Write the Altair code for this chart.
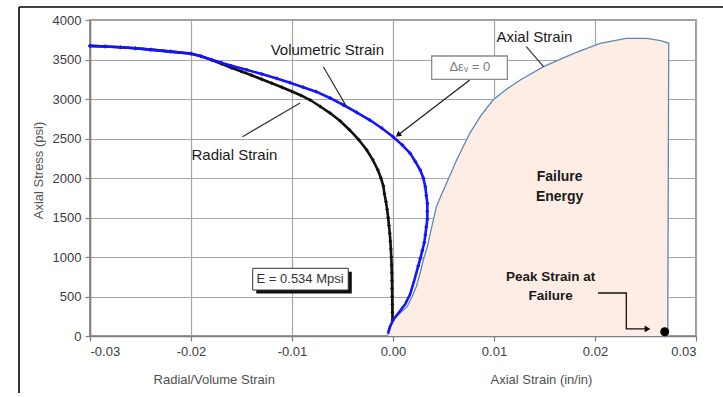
import altair as alt
import pandas as pd

FONT = "Liberation Sans, Arial, sans-serif"

# ---- Radial strain (black) ----
rad_x = [-0.0300, -0.0285, -0.0270, -0.0255, -0.0240, -0.0220, -0.0200, -0.0190, -0.0180,
         -0.0170, -0.0160, -0.0150, -0.0140, -0.0130, -0.0120, -0.0110, -0.0100, -0.0091,
         -0.0082, -0.0072, -0.0062, -0.0052, -0.0043, -0.0034, -0.0026, -0.0020, -0.0015,
         -0.0012, -0.00096, -0.00085, -0.00070, -0.00058, -0.00048, -0.00040, -0.00032,
         -0.00026, -0.00021, -0.00017, -0.00014, -0.00012, -0.00010, -0.00009, -0.00008,
         -0.00007, -0.00006, -0.00005]
rad_y = [3672, 3665, 3655, 3642, 3625, 3600, 3572, 3540, 3495,
         3445, 3395, 3348, 3300, 3250, 3200, 3148, 3095, 3045,
         2987, 2905, 2819, 2718, 2608, 2485, 2354, 2230, 2101,
         2000, 1900, 1800, 1700, 1600, 1500, 1400, 1300,
         1200, 1100, 1000, 900, 800, 700, 600, 500,
         400, 300, 200]

# ---- Volumetric strain (blue) ----
vol_x = [-0.0300, -0.0285, -0.0270, -0.0255, -0.0240, -0.0220, -0.0200, -0.0190, -0.0180,
         -0.0170, -0.0160, -0.0145, -0.0130, -0.0115, -0.0102, -0.0089, -0.0076, -0.0062,
         -0.0049, -0.0036, -0.0023, -0.0011, 0.0000, 0.0009, 0.0017, 0.0022, 0.0027,
         0.0030, 0.0032, 0.0033, 0.0034, 0.0034, 0.0034, 0.0033, 0.0032, 0.0031,
         0.0029, 0.0027, 0.0025, 0.0021, 0.0017, 0.0012, 0.0006, 0.0001, -0.0003, -0.0005]
vol_y = [3672, 3665, 3655, 3642, 3625, 3600, 3575, 3540, 3500,
         3460, 3420, 3370, 3315, 3260, 3207, 3150, 3093, 3010,
         2924, 2830, 2734, 2630, 2523, 2420, 2312, 2210, 2101,
         2000, 1890, 1780, 1680, 1580, 1480, 1380, 1280, 1182,
         1080, 980, 887, 700, 530, 400, 300, 220, 120, 30]

# ---- Axial strain (thin line + failure-energy fill) ----
ax_x = [-0.0005, 0.0000, 0.0007, 0.0014, 0.0019, 0.0023, 0.0027, 0.0030, 0.0034, 0.0037,
        0.0040, 0.0043, 0.0048, 0.0053, 0.0063, 0.0076, 0.0087, 0.0099, 0.0112, 0.0126,
        0.0149, 0.0179, 0.0205, 0.0231, 0.0251, 0.0265, 0.0273, 0.0272]
ax_y = [13, 203, 290, 371, 500, 624, 800, 962, 1130, 1304,
        1470, 1637, 1790, 1933, 2228, 2566, 2790, 2987, 3120, 3241,
        3409, 3578, 3705, 3768, 3768, 3740, 3705, 0]

# ---- Peak strain at failure ----
peak_x = [0.0269]
peak_y = [54]

# ---- Annotations ----
curve_labels = ["Volumetric Strain", "Radial Strain", "Axial Strain"]
curve_lx = [-0.0065, -0.0157, 0.0140]
curve_ly = [3620, 2291, 3785]

lead_x1 = [-0.0069, -0.0149, 0.0132]
lead_y1 = [3409, 2523, 3662]
lead_x2 = [-0.0046, -0.0092, 0.0149]
lead_y2 = [2903, 2949, 3409]

dev_arrow_x1, dev_arrow_y1, dev_arrow_x2, dev_arrow_y2 = [0.0076], [3241], [0.0005], [2544]
dev_box = dict(x=0.00383, x2=0.01132, y=3544, y2=3249)
dev_text = "Δεᵥ = 0"
dev_tx, dev_ty = 0.0076, 3400

e_box = dict(x=-0.01389, x2=-0.00443, y=857, y2=582)
e_text = "E = 0.534 Mpsi"
e_tx, e_ty = -0.0092, 720

bold_labels = ["Failure", "Energy", "Peak Strain at", "Failure"]
bold_lx = [0.0165, 0.0165, 0.0156, 0.0156]
bold_ly = [2013, 1759, 747, 506]
bold_size = [14, 14, 13.5, 13.5]

peak_path_x = [0.0203, 0.0231, 0.0231, 0.0252]
peak_path_y = [544, 544, 89, 89]

xtitle_labels = ["Radial/Volume Strain", "Axial Strain (in/in)"]
xtitle_x = [-0.0177, 0.0147]

x_ticks = [-0.03, -0.02, -0.01, 0.0, 0.01, 0.02, 0.03]
y_ticks = [0, 500, 1000, 1500, 2000, 2500, 3000, 3500, 4000]

# ---------------------------------------------------------------
xs = alt.Scale(domain=[-0.03, 0.03], nice=False, zero=False)
ys = alt.Scale(domain=[0, 4000], nice=False)

xaxis = alt.Axis(values=x_ticks, title=None,
                 labelExpr="replace(format(datum.value, '.2f'), '\u2212', '-')")
yaxis = alt.Axis(values=y_ticks, format="d", title="Axial Stress (psi)",
                 titleX=-52, titleY=150, titleAngle=270, titleAlign="center",
                 titleBaseline="middle")


def X(f="x"):
    return alt.X(f"{f}:Q", scale=xs, axis=xaxis)


def Y(f="y"):
    return alt.Y(f"{f}:Q", scale=ys, axis=yaxis)


rad = pd.DataFrame({"x": rad_x, "y": rad_y, "i": range(len(rad_x))})
vol = pd.DataFrame({"x": vol_x, "y": vol_y, "i": range(len(vol_x))})
ax = pd.DataFrame({"x": ax_x, "y": ax_y, "i": range(len(ax_x))})
ax_fill = pd.DataFrame({"x": ax_x[:-1], "y": ax_y[:-1], "y0": [0] * (len(ax_x) - 1)})
peak = pd.DataFrame({"x": peak_x, "y": peak_y})
one = pd.DataFrame({"a": [0]})

frame = alt.Chart(one).mark_rule(stroke="black", strokeWidth=1.6).encode(
    x=alt.value(-71), x2=alt.value(700), y=alt.value(-13), y2=alt.value(-13))
frame_left = alt.Chart(one).mark_rule(stroke="black", strokeWidth=1.6).encode(
    x=alt.value(-71), x2=alt.value(-71), y=alt.value(-13), y2=alt.value(400))

fill = alt.Chart(ax_fill).mark_area(fill="#fdede5", fillOpacity=1, interpolate="linear").encode(
    x=X(), y=Y(), y2="y0:Q")

ax_line = alt.Chart(ax).mark_line(color="#5b89b8", strokeWidth=1.3).encode(
    x=X(), y=Y(), order="i:Q")

rad_line = alt.Chart(rad).mark_line(color="#111111", strokeWidth=2.6).encode(
    x=X(), y=Y(), order="i:Q")
rad_pts = alt.Chart(rad).mark_point(filled=True, color="#111111", size=16, opacity=1,
                                    shape="diamond").encode(x=X(), y=Y())

vol_line = alt.Chart(vol).mark_line(color="#1414ff", strokeWidth=2.6).encode(
    x=X(), y=Y(), order="i:Q")
vol_pts = alt.Chart(vol).transform_filter("datum.y > 850").mark_point(
    filled=True, color="#1414ff", size=18, opacity=1, shape="diamond").encode(x=X(), y=Y())

leads = pd.DataFrame({"x": lead_x1, "y": lead_y1, "x2": lead_x2, "y2": lead_y2})
lead_rules = alt.Chart(leads).mark_rule(color="#333333", strokeWidth=1.2).encode(
    x=X(), y=Y(), x2="x2:Q", y2="y2:Q")

dev_arrow = pd.DataFrame({"x": dev_arrow_x1, "y": dev_arrow_y1,
                          "x2": dev_arrow_x2, "y2": dev_arrow_y2})
dev_rule = alt.Chart(dev_arrow).mark_rule(color="#222222", strokeWidth=1.3).encode(
    x=X(), y=Y(), x2="x2:Q", y2="y2:Q")
dev_head = alt.Chart(dev_arrow).mark_point(shape="triangle-up", filled=True, color="#111111",
                                          size=40, angle=232.6, opacity=1).encode(
    x=alt.X("x2:Q", scale=xs, axis=xaxis), y=alt.Y("y2:Q", scale=ys, axis=yaxis))

dev_box_df = pd.DataFrame([dev_box])
dev_rect = alt.Chart(dev_box_df).mark_rect(fill="white", stroke="#8c8c8c", strokeWidth=1.3).encode(
    x=X(), x2="x2:Q", y=Y(), y2="y2:Q")
dev_lbl = alt.Chart(pd.DataFrame({"x": [dev_tx], "y": [dev_ty], "t": [dev_text]})).mark_text(
    font=FONT, fontSize=13, color="#7a7a7a", align="center", baseline="middle").encode(
    x=X(), y=Y(), text="t:N")

e_df = pd.DataFrame([e_box])
e_shadow = alt.Chart(e_df).transform_calculate(
    sx="datum.x + 0.00035", sx2="datum.x2 + 0.00035",
    sy="datum.y - 45", sy2="datum.y2 - 45").mark_rect(fill="#111111").encode(
    x=alt.X("sx:Q", scale=xs, axis=xaxis), x2="sx2:Q",
    y=alt.Y("sy:Q", scale=ys, axis=yaxis), y2="sy2:Q")
e_rect = alt.Chart(e_df).mark_rect(fill="white", stroke="#333333", strokeWidth=1).encode(
    x=X(), x2="x2:Q", y=Y(), y2="y2:Q")
e_lbl = alt.Chart(pd.DataFrame({"x": [e_tx], "y": [e_ty], "t": [e_text]})).mark_text(
    font=FONT, fontSize=13, color="#333333", align="center", baseline="middle").encode(
    x=X(), y=Y(), text="t:N")

curve_txt = alt.Chart(pd.DataFrame({"x": curve_lx, "y": curve_ly, "t": curve_labels})).mark_text(
    font=FONT, fontSize=15, color="#1a1a1a", align="center", baseline="middle").encode(
    x=X(), y=Y(), text="t:N")

bold_txt = alt.Chart(pd.DataFrame({"x": bold_lx, "y": bold_ly, "t": bold_labels,
                                   "s": bold_size})).mark_text(
    font=FONT, fontWeight="bold", color="#1a1a1a", align="center", baseline="middle").encode(
    x=X(), y=Y(), text="t:N", size=alt.Size("s:Q", scale=None, legend=None))

peak_path = pd.DataFrame({"x": peak_path_x, "y": peak_path_y, "i": range(len(peak_path_x))})
peak_line = alt.Chart(peak_path).mark_line(color="#111111", strokeWidth=1.3).encode(
    x=X(), y=Y(), order="i:Q")
peak_head = alt.Chart(peak_path.tail(1)).mark_point(shape="triangle-right", filled=True,
                                                   color="#111111", size=45, opacity=1).encode(
    x=X(), y=Y())

peak_dot = alt.Chart(peak).mark_point(shape="circle", filled=True, color="black", size=80,
                                      opacity=1).encode(x=X(), y=Y())

xtitles = alt.Chart(pd.DataFrame({"x": xtitle_x, "t": xtitle_labels})).mark_text(
    font=FONT, fontSize=13, color="#505050", align="center", baseline="middle").encode(
    x=X(), y=alt.value(360), text="t:N")

chart = alt.layer(
    frame, frame_left, fill, ax_line, rad_line, rad_pts, vol_line, vol_pts,
    lead_rules, dev_rule, dev_head, dev_rect, dev_lbl,
    e_shadow, e_rect, e_lbl, curve_txt, bold_txt, peak_line, peak_head, peak_dot, xtitles
).properties(
    width=606, height=316,
    padding={"left": 90, "top": 20, "right": 27, "bottom": 57},
    autosize=alt.AutoSizeParams(type="none"),
    background="white",
).configure_view(
    stroke="#7f7f7f", strokeWidth=1.5
).configure_axis(
    grid=True, gridColor="#a6a6a6", gridWidth=1.2,
    domainColor="#7f7f7f", domainWidth=1.5,
    tickColor="#7f7f7f", tickSize=5, tickWidth=1.2,
    labelFont=FONT, labelFontSize=13, labelColor="#3c3c3c", labelPadding=4,
    titleFont=FONT, titleFontSize=13, titleFontWeight="normal", titleColor="#555555",
)

chart.save("out.html", embed_options={"renderer": "svg", "actions": False})
